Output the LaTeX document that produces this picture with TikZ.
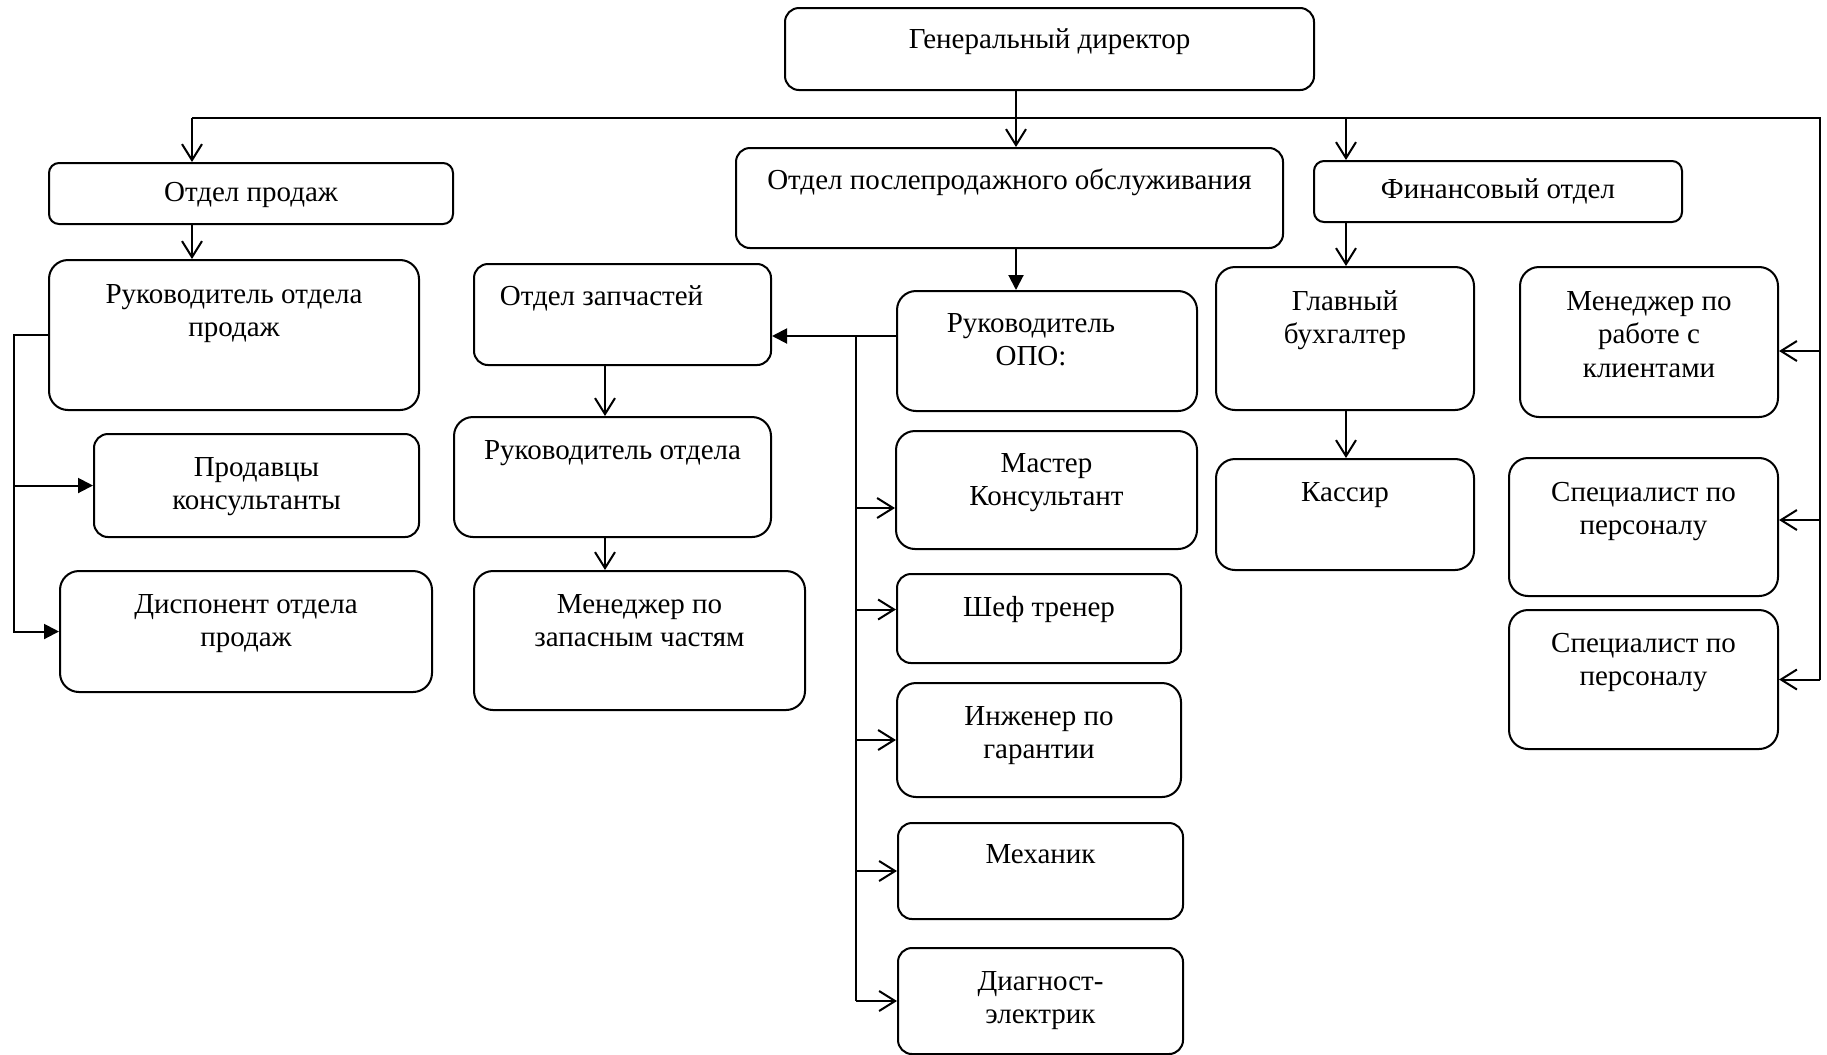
\documentclass[tikz,border=0pt]{standalone}
\usepackage{fontspec}
\setmainfont{Liberation Serif}
\usetikzlibrary{arrows.meta, positioning}
\newdimen\pxu \pxu=0.02cm
\tikzset{
  box/.style n args={3}{draw, line width=1.15pt, rounded corners=0.38cm, inner sep=0pt, anchor=north west,
    execute at begin node={\begin{minipage}[c][#2\pxu][t]{#1\pxu}\fontsize{16.5}{19.3}\selectfont\centering\rule{0pt}{#3\pxu}},
    execute at end node={\end{minipage}}},
  midbox/.style={rounded corners=0.28cm},
  lowbox/.style={rounded corners=0.2cm},
  wire/.style={line width=1.15pt},
  openarr/.style={wire, -{Straight Barb[length=3.2mm, width=4mm]}},
  farr/.style={wire, -{Triangle[length=3mm, width=3mm]}},
}
\begin{document}
\begin{tikzpicture}[x=0.02cm, y=-0.02cm]
  \useasboundingbox (0,0) rectangle (1827,1055);
  % top
  \node[box={529}{82}{40}, midbox] (dir) at (784,7) {Генеральный директор};
  % sales
  \node[box={404}{61}{38}, lowbox] (sales) at (48,162) {Отдел продаж};
  \node[box={370}{150}{43}] (shead) at (48,259) {Руководитель отдела\\продаж};
  \node[box={325}{103}{42}, midbox] (seller) at (93,433) {Продавцы\\консультанты};
  \node[box={372}{121}{42}] (disp) at (59,570) {Диспонент отдела\\продаж};
  % parts
  \node[box={297}{101}{41}, midbox] (parts) at (473,263) {Отдел запчастей\hspace*{42\pxu}\mbox{}};
  \node[box={317}{120}{42}] (phead) at (453,416) {Руководитель отдела};
  \node[box={331}{139}{42}] (pmgr) at (473,570) {Менеджер по\\запасным частям};
  % after-sales service
  \node[box={547}{100}{41}, midbox] (opo) at (735,147) {Отдел послепродажного обслуживания};
  \node[box={300}{120}{41}] (ohead) at (896,290) {Руководитель\hspace*{32\pxu}\mbox{}\\ОПО:\hspace*{32\pxu}\mbox{}};
  \node[box={301}{118}{41}] (master) at (895,430) {Мастер\\Консультант};
  \node[box={284}{89}{42}, midbox] (chef) at (896,573) {Шеф тренер};
  \node[box={284}{114}{42}] (eng) at (896,682) {Инженер по\\гарантии};
  \node[box={285}{96}{40}, midbox] (mech) at (897,822) {Механик};
  \node[box={285}{106}{42}, midbox] (diag) at (897,947) {Диагност-\\электрик};
  % finance
  \node[box={368}{61}{37}, lowbox] (fin) at (1313,160) {Финансовый отдел};
  \node[box={258}{143}{43}] (chief) at (1215,266) {Главный\\бухгалтер};
  \node[box={258}{111}{42}] (cash) at (1215,458) {Кассир};
  % staff
  \node[box={258}{150}{43}] (cmgr) at (1519,266) {Менеджер по\\работе с\\клиентами};
  \node[box={269}{138}{43}] (hr1) at (1508,457) {Специалист по\\персоналу};
  \node[box={269}{139}{42}] (hr2) at (1508,609) {Специалист по\\персоналу};

  \coordinate (busL) at (192,118);
  \coordinate (busR) at (1820,118);
  \coordinate (trunk) at (1016,118);
  \coordinate (finx) at (1346,118);
  \coordinate (sbus) at (14,336);
  \coordinate (obus) at (856,336);
  \coordinate (pcol) at (605,0);

  % bus from the director
  \draw[wire] (busL) -- (busR) -- (busR |- hr2.east);
  \draw[openarr] (dir.south -| trunk) -- (opo.north -| trunk);
  \draw[openarr] (busL) -- (sales.north -| busL);
  \draw[openarr] (finx) -- (fin.north -| finx);
  \coordinate (ctip) at ([yshift=-0.18cm]cmgr.east);
  \coordinate (h1tip) at ([yshift=0.14cm]hr1.east);
  \draw[openarr] (busR |- ctip) -- (ctip);
  \draw[openarr] (busR |- h1tip) -- (h1tip);
  \draw[openarr] (busR |- hr2.east) -- (hr2.east);

  % sales
  \draw[openarr] (sales.south -| busL) -- (shead.north -| busL);
  \draw[farr] (shead.west) -| (sbus |- disp.west) -- (disp.west);
  \draw[farr] (sbus |- seller.west) -- (seller.west);

  % after-sales
  \draw[farr] (opo.south -| trunk) -- (ohead.north -| trunk);
  \draw[farr] (ohead.west |- obus) -- (parts.east |- obus);
  \draw[wire] (obus) -- (obus |- diag.west);
  \coordinate (mtip) at ([yshift=-0.36cm]master.west);
  \coordinate (ctip2) at ([yshift=0.18cm]chef.west);
  \draw[openarr] (obus |- mtip) -- (mtip);
  \draw[openarr] (obus |- ctip2) -- (ctip2);
  \draw[openarr] (obus |- eng.west) -- (eng.west);
  \draw[openarr] (obus |- mech.west) -- (mech.west);
  \draw[openarr] (obus |- diag.west) -- (diag.west);

  % parts
  \draw[openarr] (parts.south -| pcol) -- (phead.north -| pcol);
  \draw[openarr] (phead.south -| pcol) -- (pmgr.north -| pcol);

  % finance
  \draw[openarr] (fin.south -| finx) -- (chief.north -| finx);
  \draw[openarr] (chief.south -| finx) -- (cash.north -| finx);
\end{tikzpicture}
\end{document}
